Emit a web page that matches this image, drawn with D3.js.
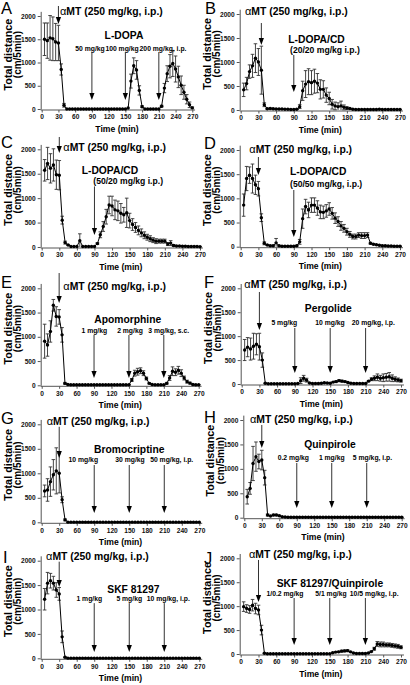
<!DOCTYPE html>
<html><head><meta charset="utf-8">
<script src="https://cdn.jsdelivr.net/npm/d3@7"></script>
<style>body{margin:0;background:#fff}svg{display:block}</style>
</head><body><svg id="c" width="410" height="685"></svg>
<script>
// ---------------- data ----------------
const times = [5,10,15,20,25,30,35,40,45,50,55,60,65,70,75,80,85,90,95,100,105,110,115,120,125,130,135,140,145,150,155,160,165,170,175,180,185,190,195,200,205,210,215,220,225,230,235,240,245,250,255,260,265,270];
const xTicks = [0,30,60,90,120,150,180,210,240,270];
const yTicks = [0,500,1000,1500,2000];
const panelLetters = ["A","B","C","D","E","F","G","H","I","J"];
const aMTLabel = "MT (250 mg/kg, i.p.)";
const aMTTimes = [30,35,30,30,30,30,30,30,30,30];
const drugNames = ["L-DOPA","L-DOPA/CD","L-DOPA/CD","L-DOPA/CD","Apomorphine","Pergolide","Bromocriptine","Quinpirole","SKF 81297","SKF 81297/Quinpirole"];
const doseTexts = [
  ["50 mg/kg","100 mg/kg","200 mg/kg, i.p."],
  ["(20/20 mg/kg i.p.)"],
  ["(50/20 mg/kg i.p.)"],
  ["(50/50 mg/kg, i.p.)"],
  ["1 mg/kg","2 mg/kg","3 mg/kg, s.c."],
  ["5 mg/kg","10 mg/kg","20 mg/kg, i.p."],
  ["10 mg/kg","30 mg/kg","50 mg/kg, i.p."],
  ["0.2 mg/kg","1 mg/kg","5 mg/kg, i.p."],
  ["1 mg/kg","5 mg/kg","10 mg/kg, i.p."],
  ["1/0.2 mg/kg","5/1 mg/kg","10/5 mg/kg, i.p."]
];
const injectionTimes = [[90,150,210],[90],[90],[90],[90,150,210],[90,150,210],[90,150,210],[90,150,210],[90,150,210],[90,150,210]];

const aMean = [1500,1470,1530,1510,1440,1420, 850,80,0,0,0,0, 0,0,0,0,0,0, 0,0,0,0,0,0, 0,0,0,0,0,0, 20,600,930,840,400,50, 0,0,0,0,0,0, 60,450,760,920,980,860, 690,510,360,210,90,25];
const aErr  = [350,380,480,470,400,380, 120,40,0,0,0,0, 0,0,0,0,0,0, 0,0,0,0,0,0, 0,0,0,0,0,0, 0,150,170,200,100,20, 0,0,0,0,0,0, 20,100,170,250,280,280, 230,200,150,100,60,20];
const bMean = [420,550,800,920,1080,1000, 830,110,25,30,25,20, 20,20,15,15,10,10, 15,70,400,540,590,570, 600,560,430,430,310,240, 120,85,70,85,55,40, 30,15,10,10,10,10, 10,10,10,10,15,10, 10,10,10,10,10,10];
const bErr  = [140,130,140,240,300,280, 500,40,10,10,10,10, 5,5,5,5,5,5, 5,40,200,280,270,250, 250,200,200,180,150,130, 100,80,80,100,50,30, 10,5,5,5,5,5, 5,5,5,5,5,5, 5,5,5,5,5,5];
const cMean = [1570,1710,1610,1680,1480,1470, 550,90,40,10,10,10, 130,10,10,10,10,10, 70,250,420,620,860,840, 760,740,690,660,700,540, 460,400,340,290,240,200, 170,140,120,120,120,120, 60,80,30,20,20,15, 15,10,10,10,10,5];
const cErr  = [220,330,300,330,300,300, 80,30,10,0,0,0, 140,0,0,0,0,0, 20,60,100,150,180,200, 200,200,200,150,300,150, 120,100,90,80,70,60, 60,50,50,40,40,40, 30,50,20,10,10,10, 10,5,5,5,5,5];
const dMean = [860,1410,1480,1410,1280,1200, 600,70,35,20,20,80, 20,10,10,10,10,10, 20,100,580,830,760,860, 860,800,720,710,740,780, 690,590,520,430,380,310, 255,210,210,240,230,230, 240,70,50,40,30,20, 20,15,15,10,10,10];
const dErr  = [230,250,170,300,200,150, 80,30,10,10,10,90, 10,5,5,5,5,5, 10,50,200,150,160,150, 150,150,140,130,130,130, 120,110,100,90,80,70, 60,50,50,50,60,60, 50,20,10,10,10,10, 10,5,5,5,5,5];
const eMean = [910,830,1110,1650,1420,1410, 1040,40,15,10,10,10, 10,10,10,10,10,10, 10,10,10,10,10,10, 10,10,10,10,10,10, 110,250,280,300,250,140, 40,15,10,10,10,10, 40,150,290,270,310,250, 150,75,45,15,10,10];
const eErr  = [350,230,220,120,200,150, 150,20,5,5,5,5, 5,5,5,5,5,5, 5,5,5,5,5,5, 5,5,5,5,5,5, 30,60,70,60,50,30, 15,5,5,5,5,5, 20,50,90,70,80,70, 40,30,20,10,5,5];
const fMean = [710,770,730,790,830,780, 500,15,5,5,5,5, 5,5,5,5,5,5, 10,70,120,80,20,10, 10,10,15,25,20,15, 40,50,70,60,50,30, 15,10,10,10,10,10, 60,100,120,140,120,130, 140,150,120,100,85,70];
const fErr  = [220,200,230,270,220,280, 150,10,5,5,5,5, 5,5,5,5,5,5, 5,60,60,40,10,5, 5,5,10,10,10,10, 10,20,20,20,15,10, 5,5,5,5,5,5, 10,30,50,70,60,80, 80,90,70,50,40,30];
const gMean = [640,660,830,970,1050,1000, 460,50,3,3,3,3, 3,3,3,3,3,3, 3,3,3,3,3,3, 3,3,3,3,3,3, 3,3,3,3,3,3, 3,3,3,3,3,3, 3,3,3,3,3,3, 3,3,3,3,3,3];
const gErr  = [120,230,300,310,470,400, 60,20,0,0,0,0, 0,0,0,0,0,0, 0,0,0,0,0,0, 0,0,0,0,0,0, 0,0,0,0,0,0, 0,0,0,0,0,0, 0,0,0,0,0,0, 0,0,0,0,0,0];
const hMean = [430,600,1110,1250,1150,1180, 820,55,35,55,55,40, 20,15,10,10,10,10, 10,10,10,10,10,10, 10,10,10,10,10,10, 10,10,10,10,10,10, 10,10,10,10,10,10, 10,10,10,10,10,10, 10,10,10,10,10,10];
const hErr  = [150,120,350,300,150,200, 150,20,10,15,15,10, 5,5,5,5,5,5, 5,5,5,5,5,5, 5,5,5,5,5,5, 5,5,5,5,5,5, 5,5,5,5,5,5, 5,5,5,5,5,5, 5,5,5,5,5,5];
const iMean = [1210,1540,1590,1540,1400,1320, 440,20,3,3,3,3, 3,3,3,3,3,3, 3,3,3,3,3,3, 3,3,3,3,3,3, 3,3,3,3,3,3, 3,3,3,3,3,3, 3,3,3,3,3,3, 3,3,3,3,3,3];
const iErr  = [220,220,150,140,150,130, 120,10,0,0,0,0, 0,0,0,0,0,0, 0,0,0,0,0,0, 0,0,0,0,0,0, 0,0,0,0,0,0, 0,0,0,0,0,0, 0,0,0,0,0,0, 0,0,0,0,0,0];
const jMean = [990,950,930,1020,950,920, 500,15,5,5,5,5, 5,5,5,5,5,5, 5,5,5,5,5,5, 5,5,5,5,5,5, 25,40,45,60,65,70, 45,20,10,10,10,10, 20,50,110,210,200,200, 190,190,180,170,160,140];
const jErr  = [100,80,80,120,110,100, 100,10,5,5,5,5, 5,5,5,5,5,5, 5,5,5,5,5,5, 5,5,5,5,5,5, 10,10,15,20,20,20, 10,5,5,5,5,5, 5,10,30,50,50,50, 40,40,40,40,40,30];

const means = [aMean,bMean,cMean,dMean,eMean,fMean,gMean,hMean,iMean,jMean];
const errs  = [aErr,bErr,cErr,dErr,eErr,fErr,gErr,hErr,iErr,jErr];

// ---------------- layout (pixel ranges, annotation anchors in data units) ----------------
const layout = [
 {px:[41.7,192.3], py:[109,16],    letter:[1,14],   mt:[2215,1828], mtText:[32.8,2011], drug:[147.5,1495,"middle"], doseT:[86.6,144,217.5], doseV:1247, arr:[1226,194]},
 {px:[240.7,400],  py:[110,14],    letter:[205,14], mt:[1812,1354], mtText:[7.3,1979],  drug:[80.7,1390,"start"], sub:[83.6,1188], arr:[1146,375]},
 {px:[41.7,200],   py:[247,149.3], letter:[1,148],  mt:[2252,1924], mtText:[36.8,1955], drug:[68.2,1494,"start"], sub:[88,1290], arr:[1240,246]},
 {px:[240.7,400],  py:[246.7,150], letter:[204,149],mt:[1855,1483], mtText:[14.6,1938], drug:[83.6,1473,"start"], sub:[83.6,1245], arr:[1173,200]},
 {px:[41.7,198.7], py:[385.3,288.3],letter:[1,288], mt:[2315,1697], mtText:[37.1,1965], drug:[147.9,1285,"middle"], doseT:[90.5,151.8,218.4], doseV:1078, arr:[1037,150]},
 {px:[241.7,401],  py:[384,288.3], letter:[204,288],mt:[1923,1129], mtText:[4.4,2006],  drug:[146.8,1505,"middle"], doseT:[72.2,149.7,223], doseV:1233, arr:[1170,230]},
 {px:[41.7,199.3], py:[522.3,424.3],letter:[1,424], mt:[1950,1312], mtText:[8.6,1976],  drug:[150,1414,"middle"], doseT:[71.3,151.3,222.7], doseV:1231, arr:[1169,190]},
 {px:[244.3,401.7],py:[517.7,420], letter:[204,423],mt:[1898,1427], mtText:[9.8,1939],  drug:[147,1428,"middle"], doseT:[84.1,150,219.9], doseV:1181, arr:[1120,199]},
 {px:[41.7,199.3], py:[658.3,560.7],letter:[3,563], mt:[1980,1461], mtText:[7.4,2014],  drug:[157,1348,"middle"], doseT:[81.5,150,216.9], doseV:1184, arr:[1130,129]},
 {px:[240.7,401],  py:[654,558.3], letter:[204,564],mt:[1965,1087], mtText:[14,2006],   drug:[60.6,1400,"start"], doseT:[74.6,152,224.9], doseV:1212, arr:[1170,188]}
];

// ---------------- drawing ----------------
const FONT = "'Liberation Sans', Arial, Helvetica, sans-serif";
const svg = d3.select("#c").attr("font-family", FONT);

function arrow(g, xp, yTop, yTip) {
  g.append("line").attr("x1", xp).attr("x2", xp).attr("y1", yTop).attr("y2", yTip - 5)
    .attr("stroke", "#333").attr("stroke-width", 1);
  g.append("path").attr("d", `M${xp-2.6},${yTip-7}L${xp+2.6},${yTip-7}L${xp},${yTip}Z`).attr("fill", "#000");
}

layout.forEach((L, k) => {
  const mean = means[k], err = errs[k];
  const x = d3.scaleLinear().domain([0, 270]).range(L.px);
  const y = d3.scaleLinear().domain([0, 2000]).range(L.py);
  const g = svg.append("g");

  // axes
  const yA = d3.scaleLinear().domain([0, 2100]).range([y(0), y(2100)]);
  const ya = g.append("g").attr("transform", `translate(${x(0) - 1},0)`)
    .call(d3.axisLeft(yA).tickValues(yTicks).tickSize(3).tickSizeOuter(0).tickPadding(2).tickFormat(d3.format("d")));
  const xA = d3.scaleLinear().domain([0, 275]).range([x(0) - 1, x(275)]);
  const xa = g.append("g").attr("transform", `translate(0,${y(0) + 1})`)
    .call(d3.axisBottom(x).tickValues(xTicks).tickSize(2.5).tickSizeOuter(0).tickPadding(2.3));
  xa.select(".domain").attr("d", `M${xA(0)},0H${xA(275)}`);
  [ya, xa].forEach(a => {
    a.attr("font-family", FONT).attr("font-size", 6.6).attr("font-weight", "bold");
    a.select(".domain").attr("stroke", "#555");
    a.selectAll(".tick line").attr("stroke", "#555");
    a.selectAll("text").attr("fill", "#111");
  });

  // axis titles
  g.append("text").attr("x", (L.px[0] + L.px[1]) / 2).attr("y", y(0) + 22.5)
    .attr("text-anchor", "middle").attr("font-size", 8.6).attr("font-weight", "bold").text("Time (min)");
  g.append("text").attr("transform", `translate(${x(0) - 30},${y(1170)}) rotate(-90)`)
    .attr("text-anchor", "middle").attr("font-size", 10.8).attr("font-weight", "bold").text("Total distance");
  g.append("text").attr("transform", `translate(${x(0) - 20.4},${y(1170)}) rotate(-90)`)
    .attr("text-anchor", "middle").attr("font-size", 10).attr("font-weight", "bold").text("(cm/5min)");

  // panel letter
  svg.append("text").attr("x", L.letter[0]).attr("y", L.letter[1]).attr("font-size", 16.5).text(panelLetters[k]);

  // error bars
  const eb = g.append("g").attr("stroke", "#333").attr("stroke-width", 0.9);
  times.forEach((t, i) => {
    if (err[i] <= 0) return;
    const lo = Math.max(0, mean[i] - err[i]), hi = mean[i] + err[i];
    const xp = x(t);
    eb.append("line").attr("x1", xp).attr("x2", xp).attr("y1", y(lo)).attr("y2", y(hi));
    eb.append("line").attr("x1", xp - 1.8).attr("x2", xp + 1.8).attr("y1", y(hi)).attr("y2", y(hi));
    if (lo > 0) eb.append("line").attr("x1", xp - 1.8).attr("x2", xp + 1.8).attr("y1", y(lo)).attr("y2", y(lo));
  });

  // line + markers
  const pts = times.map((t, i) => [t, mean[i]]);
  g.append("path").datum(pts).attr("fill", "none").attr("stroke", "#000").attr("stroke-width", 1)
    .attr("d", d3.line().x(d => x(d[0])).y(d => y(d[1])));
  g.selectAll("circle.pt").data(pts).join("circle").attr("class", "pt")
    .attr("cx", d => x(d[0])).attr("cy", d => y(d[1])).attr("r", 1.7).attr("fill", "#000");

  // alpha-MT annotation
  arrow(g, x(aMTTimes[k]), y(L.mt[0]), y(L.mt[1]));
  const mtT = g.append("text").attr("x", x(L.mtText[0])).attr("y", y(L.mtText[1]))
    .attr("font-size", 10.4).attr("font-weight", "bold");
  mtT.append("tspan").attr("font-weight", "normal").attr("font-size", 11).text("\u03B1");
  mtT.append("tspan").text(aMTLabel);

  // drug name
  g.append("text").attr("x", x(L.drug[0])).attr("y", y(L.drug[1])).attr("text-anchor", L.drug[2])
    .attr("font-size", 10.3).attr("font-weight", "bold").text(drugNames[k]);

  // dose texts
  if (L.sub) {
    g.append("text").attr("x", x(L.sub[0])).attr("y", y(L.sub[1]))
      .attr("font-size", 8.6).attr("font-weight", "bold").text(doseTexts[k][0]);
  } else {
    doseTexts[k].forEach((s, j) => {
      g.append("text").attr("x", x(L.doseT[j])).attr("y", y(L.doseV)).attr("text-anchor", "middle")
        .attr("font-size", 6.8).attr("font-weight", "bold").text(s);
    });
  }
  injectionTimes[k].forEach(t => arrow(g, x(t), y(L.arr[0]), y(L.arr[1])));
});
</script>
</body></html>
